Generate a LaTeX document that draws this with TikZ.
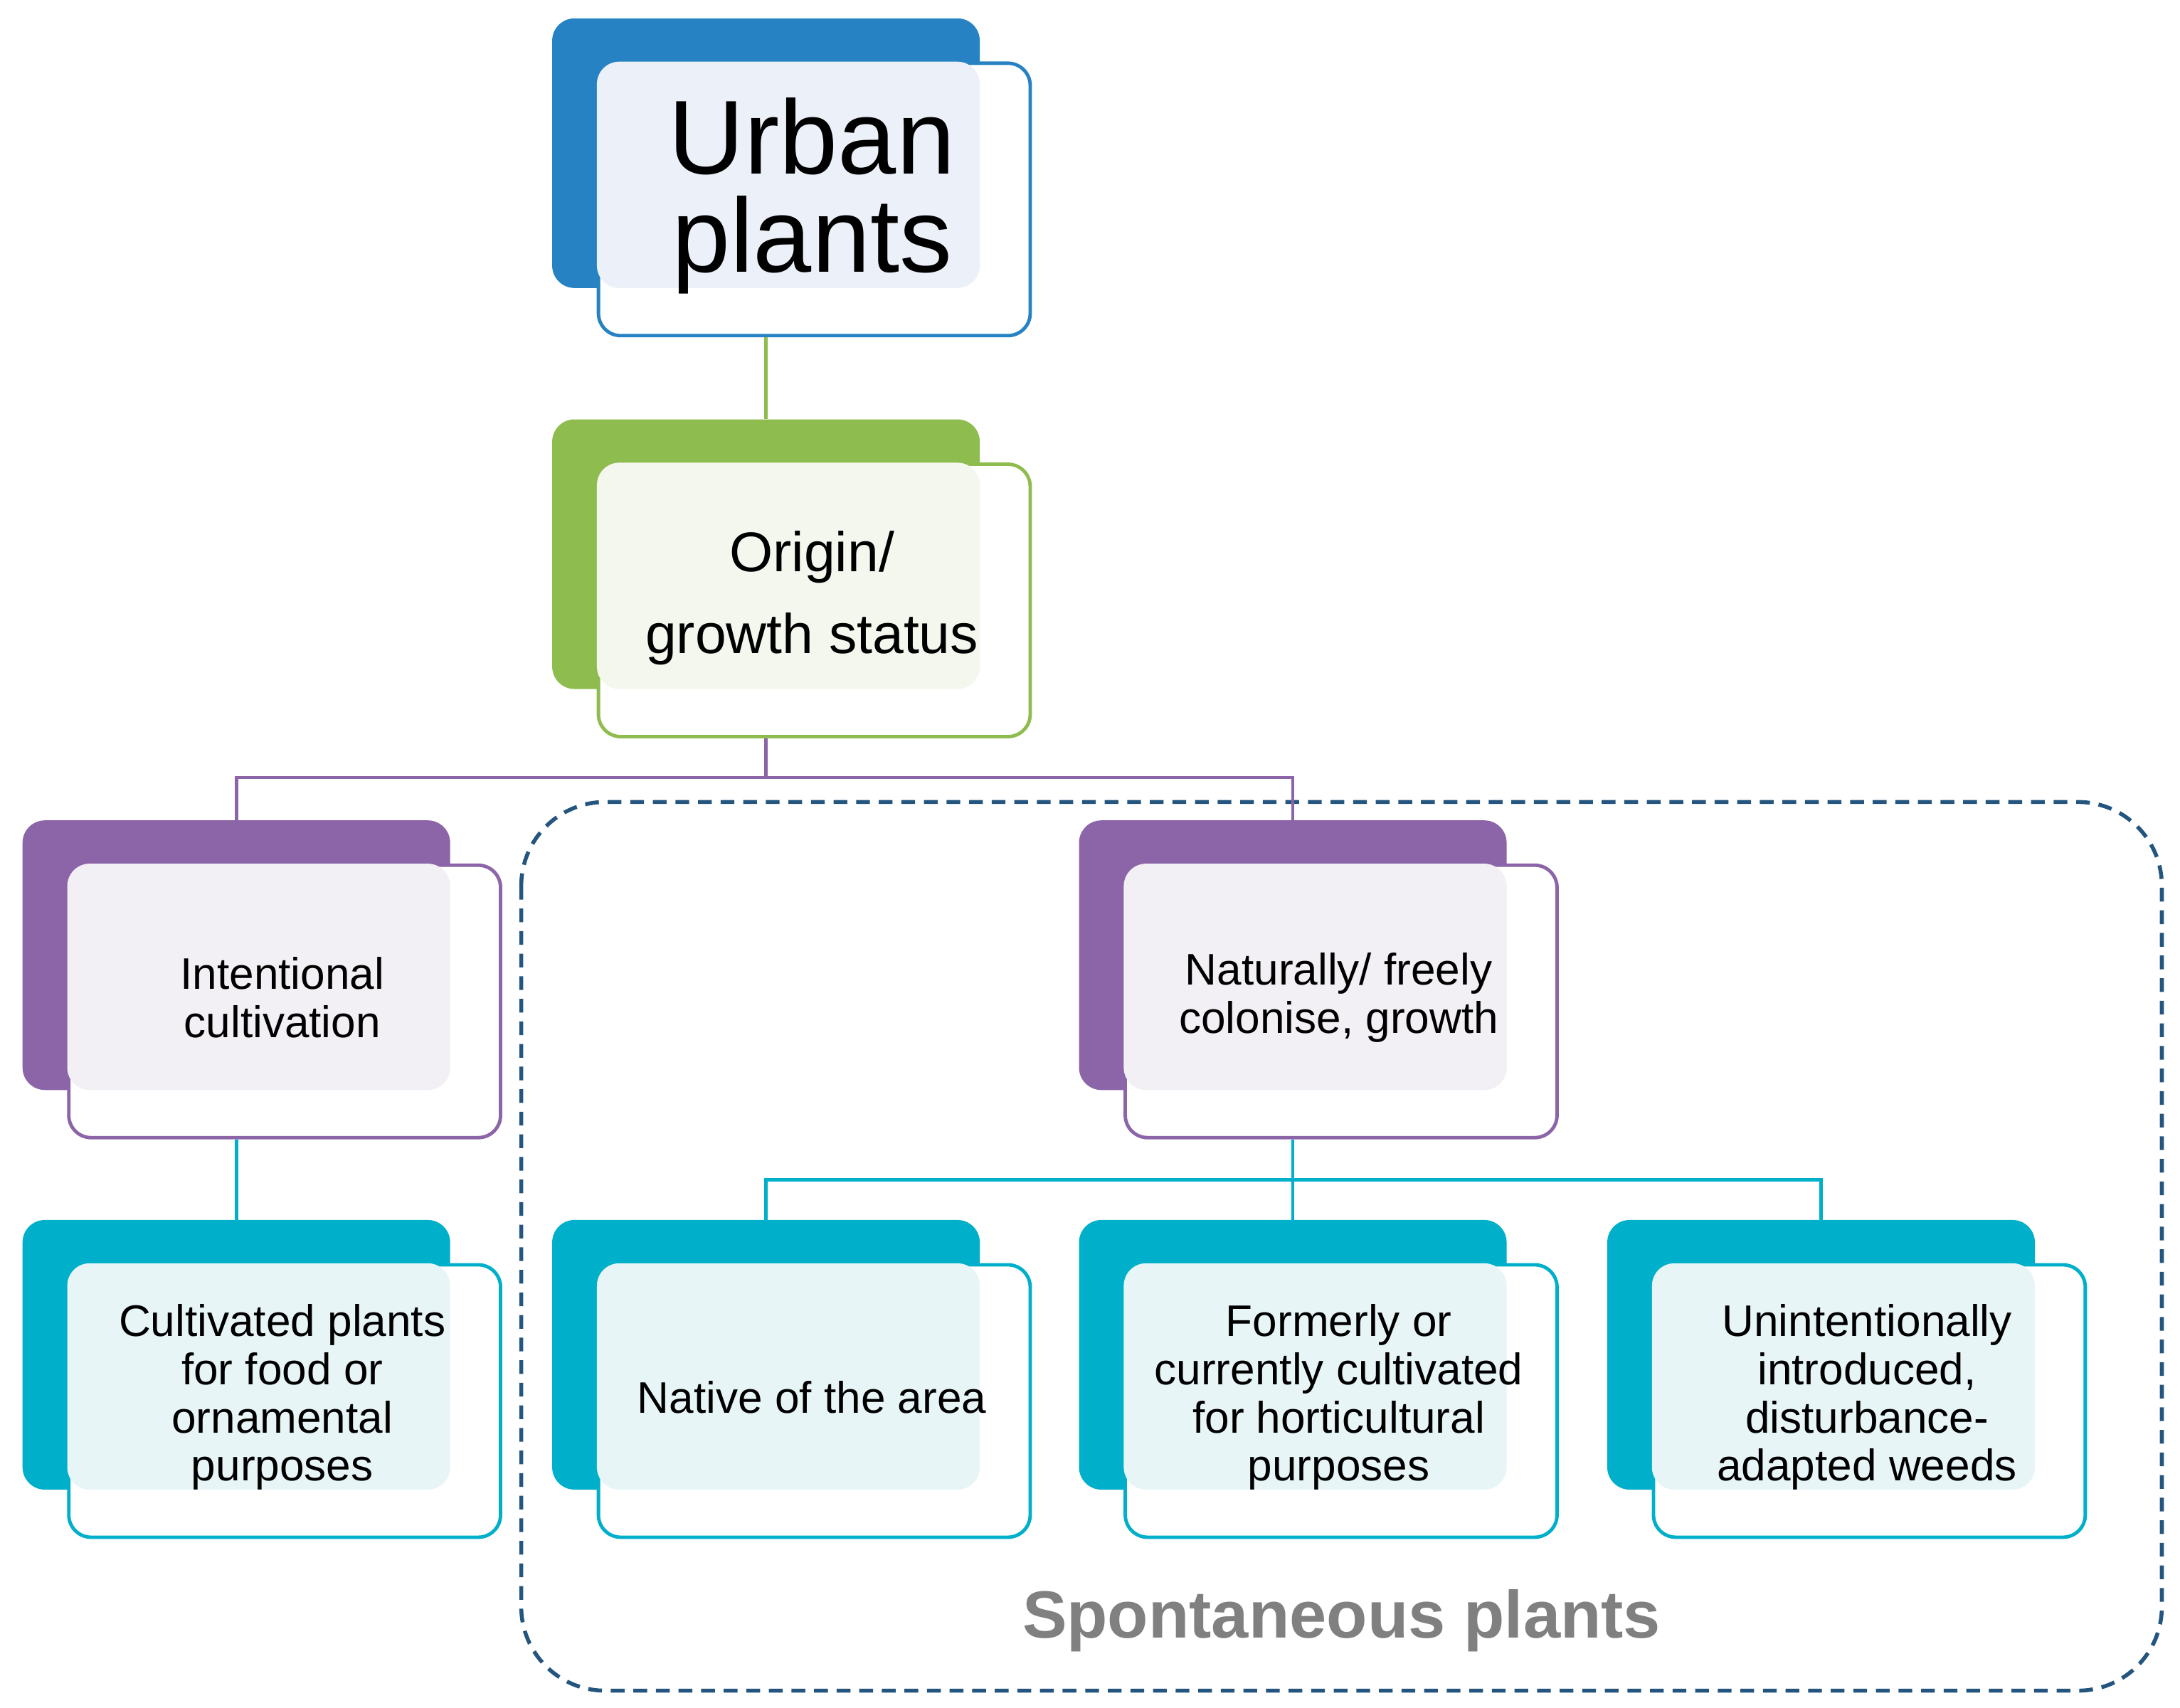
\documentclass[tikz,border=0pt]{standalone}
\usepackage{fontspec}
\setmainfont{Liberation Sans}
\definecolor{cblue}{HTML}{2682C2}\definecolor{lblue}{HTML}{ECF1F9}
\definecolor{cgreen}{HTML}{8FBC4F}\definecolor{lgreen}{HTML}{F3F7EE}
\definecolor{cpurple}{HTML}{8B65A7}\definecolor{lpurple}{HTML}{F2EFF5}
\definecolor{cteal}{HTML}{00AFC9}\definecolor{lteal}{HTML}{E8F5F7}
\definecolor{cdash}{HTML}{24557F}
\newcommand{\pbox}[6]{%
 \node[back, fill=#4, anchor=north west] (#1b) at (#2,#3) {};
 \node[front, draw=#4, anchor=north west] (#1) at (#2+32,#3+31) {};
 \node[over, fill=#5, anchor=north west] (#1o) at (#2+32,#3+31) {};
 \node[txt] (#1t) at (#2+186,#3+127) {#6};}
\begin{document}
\begin{tikzpicture}[x=0.05cm,y=-0.05cm,
 back/.style={rectangle,rounded corners=0.8cm,minimum width=15.3cm,minimum height=9.65cm,inner sep=0},
 front/.style={rectangle,rounded corners=0.8cm,minimum width=15.45cm,minimum height=9.75cm,inner sep=0,fill=white,line width=3.5pt},
 over/.style={rectangle,rounded corners=0.8cm,minimum width=13.7cm,minimum height=8.1cm,inner sep=0},
 txt/.style={align=center,font=\fontsize{45}{49}\selectfont},
 con/.style={line width=3.5pt}]
\useasboundingbox (0,0) rectangle (1560,1222);
\draw[cdash,line width=4pt,dash pattern=on 14pt off 9pt,rounded corners=3cm] (373,574) rectangle (1547,1210);
\pbox{up}{395}{13}{cblue}{lblue}{}
\node[align=center,font=\fontsize{107}{100}\selectfont] (upt) at (581,140) {Urban\\plants};
\pbox{og}{395}{300}{cgreen}{lgreen}{}
\node[align=center,font=\fontsize{57}{84}\selectfont] (ogt) at (581,428) {Origin/\\growth status};
\pbox{ic}{16}{587}{cpurple}{lpurple}{Intentional\\cultivation}
\pbox{nf}{772}{587}{cpurple}{lpurple}{Naturally/ freely\\colonise, growth}
\pbox{cp}{16}{873}{cteal}{lteal}{Cultivated plants\\for food or\\ornamental\\purposes}
\pbox{na}{395}{873}{cteal}{lteal}{Native of the area}
\pbox{fc}{772}{873}{cteal}{lteal}{Formerly or\\currently cultivated\\for horticultural\\purposes}
\pbox{ui}{1150}{873}{cteal}{lteal}{Unintentionally\\introduced,\\disturbance-\\adapted weeds}
\draw[con,cgreen] (upb.south |- up.south) -- (ogb.north);
\draw[con,cpurple] (ogb.south |- og.south) -- ++(0,28) -| (icb.north);
\draw[con,cpurple] (ogb.south |- og.south) -- ++(0,28) -| (nfb.north);
\draw[con,cteal] (icb.south |- ic.south) -- (cpb.north);
\draw[con,cteal] (nfb.south |- nf.south) -- (fcb.north);
\draw[con,cteal] (nfb.south |- nf.south) -- ++(0,29) -| (nab.north);
\draw[con,cteal] (nfb.south |- nf.south) -- ++(0,29) -| (uib.north);
\node[font=\bfseries\fontsize{68}{70}\selectfont,text=gray] (sp) at (960,1160) {Spontaneous plants};
\end{tikzpicture}
\end{document}
